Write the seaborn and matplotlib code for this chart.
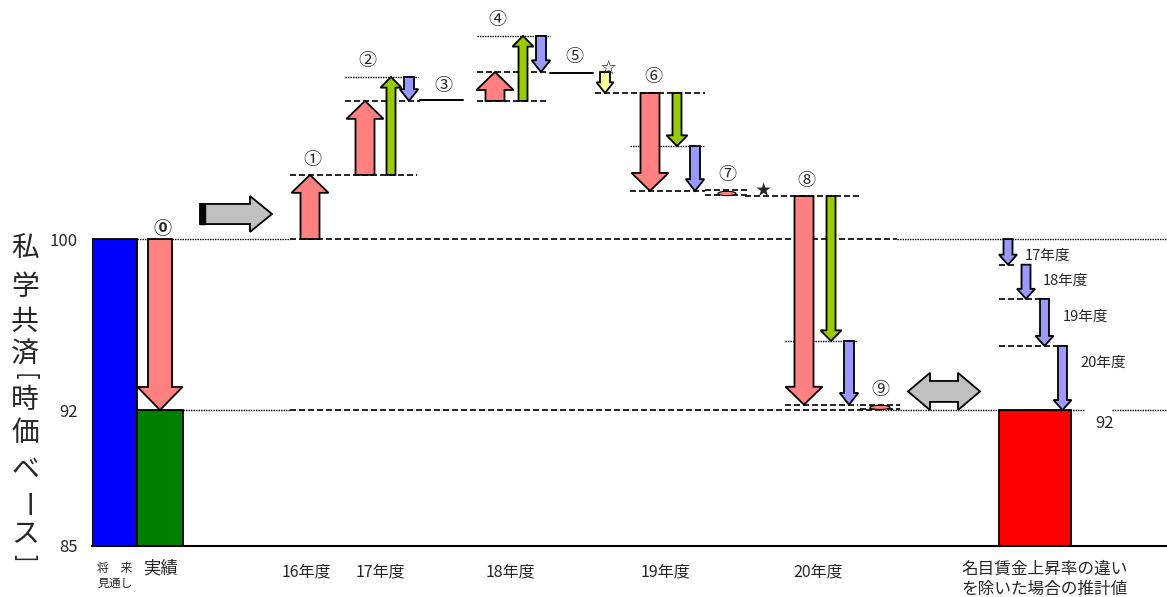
import matplotlib
matplotlib.use("Agg")
import matplotlib.pyplot as plt
import seaborn as sns
import pandas as pd
from matplotlib.patches import Ellipse

# %% data (index: projection = 100)

projection = 100.0
actual = 92.0
adjusted = 92.0
y_tick_labels = ["85", "92", "100"]

bar_names = ["将　来\n見通し", "実績"]
bar_values = [projection, actual]
adjusted_name = "名目賃金上昇率の違い\nを除いた場合の推計値"

years = ["16年度", "17年度", "18年度", "19年度", "20年度"]

# levels reached after each step
lv_16 = 103.0
lv_17_top = 107.58
lv_17 = 106.46
lv_18_top = 109.5
lv_18 = 107.81
lv_star = 106.83
lv_19_mid = 104.35
lv_19 = 102.25
lv_7 = 102.01
lv_20_mid = 95.23
lv_20 = 92.25

# arrows: start, end, colour kind
arrow_start = [projection, projection, lv_16, lv_16, lv_17_top, lv_17, lv_17, lv_18_top,
               lv_18, lv_star, lv_star, lv_19_mid, lv_7, lv_7, lv_20_mid]
arrow_end = [actual, lv_16, lv_17, lv_17_top, lv_17, lv_18, lv_18_top, lv_18,
             lv_star, lv_19, lv_19_mid, lv_19, lv_20, lv_20_mid, lv_20]
arrow_kind = ["pink", "pink", "pink", "green", "blue", "pink", "green", "blue",
              "yellow", "pink", "green", "blue", "pink", "green", "blue"]

# right side: blue (nominal wage) parts only
adj_years = ["17年度", "18年度", "19年度", "20年度"]
adj_levels = [projection, 98.8, 97.2, 95.0, adjusted]

circled = ["⓪", "①", "②", "③", "④", "⑤", "⑥", "⑦", "⑧", "⑨"]

# %% layout (x axis in arbitrary slot units)

y_bottom = 85.64
y_top = 111.18
x_max = 107.5

bar_x = [2.25, 6.8]
red_x, red_w = 94.3, 7.2

arrow_x = [6.8, 21.8, 27.3, 29.9, 31.7, 40.3, 43.1, 44.9,
           51.3, 55.8, 58.5, 60.3, 71.2, 73.9, 75.7]
kind_color = {"pink": "#FF8080", "green": "#99CC00", "blue": "#9999FF", "yellow": "#FFFF99"}
kind_size = {  # shaft width, head width, head length
    "pink": (1.9, 3.7, 0.84),
    "green": (0.9, 2.1, 0.5),
    "blue": (1.0, 1.85, 0.55),
    "yellow": (1.0, 1.7, 0.5),
}
adj_x = [91.6, 93.4, 95.25, 97.05]

circled_pos = [(7.1, 100.51), (22.0, 103.7), (27.5, 108.33), (35.1, 107.16), (40.5, 110.25),
               (48.2, 108.51), (56.1, 107.58), (63.5, 102.99), (71.4, 102.71), (78.8, 92.94)]


def varrow(ax, x, y0, y1, shaft, head, head_len, color):
    s = 1 if y1 > y0 else -1
    hl = min(head_len, abs(y1 - y0))
    yb = y1 - s * hl
    xs = [x - shaft / 2, x - shaft / 2, x - head / 2, x, x + head / 2, x + shaft / 2, x + shaft / 2]
    ys = [y0, yb, yb, y1, yb, yb, y0]
    ax.fill(xs, ys, facecolor=color, edgecolor="black", linewidth=1.3, joinstyle="miter", zorder=4)


def hline(ax, y, x0, x1, style):
    ls = (0, (3.6, 1.8)) if style == "--" else (0, (1, 0.8))
    lw = 1.2 if style == "--" else 1.0
    ax.plot([x0, x1], [y, y], color="black", linestyle=ls, linewidth=lw, zorder=3)


# %% figure

sns.set_theme(style="white")
plt.rcParams["font.family"] = ["Noto Sans CJK JP", "DejaVu Sans"]

fig = plt.figure(figsize=(11.67, 5.97), dpi=100)
ax = fig.add_axes([92 / 1167, 51 / 597, 1075 / 1167, 546 / 597])

df_bars = pd.DataFrame({"x": bar_x, "value": bar_values, "name": bar_names})
sns.barplot(data=df_bars, x="x", y="value", hue="name", palette=["#0000FF", "#008000"],
            native_scale=True, dodge=False, width=1.0, orient="x", errorbar=None, saturation=1,
            edgecolor="black", linewidth=1.3, legend=False, ax=ax, zorder=2)
df_red = pd.DataFrame({"x": [red_x], "value": [adjusted]})
sns.barplot(data=df_red, x="x", y="value", color="#FF0000", native_scale=True, saturation=1,
            width=red_w, orient="x", errorbar=None, edgecolor="black", linewidth=1.3,
            ax=ax, zorder=2)

# guide lines
guides = [
    (projection, 4.5, 19.8, ":"), (projection, 19.8, 80.5, "--"), (projection, 80.5, x_max, ":"),
    (actual, 9.1, 19.8, ":"), (actual, 19.8, 78.8, "--"), (actual, 78.8, 99.3, ":"), (actual, 102.0, x_max, ":"),
    (lv_16, 19.8, 32.5, "--"),
    (lv_17, 25.3, 32.8, "--"), (lv_17, 38.5, 45.6, "--"), (lv_17_top, 25.3, 32.6, ":"),
    (lv_18, 38.5, 45.6, "--"), (lv_18_top, 38.5, 45.8, ":"),
    (lv_star, 50.3, 61.3, "--"), (lv_19_mid, 53.8, 61.2, ":"), (lv_19, 53.8, 61.3, "--"),
    (lv_19 + 0.03, 61.3, 65.5, "--"), (lv_7 + 0.03, 61.3, 65.5, "--"),
    (lv_7, 65.3, 76.8, "--"), (lv_20_mid, 69.3, 76.5, ":"), (lv_20, 69.3, 76.6, "--"),
    (lv_20 - 0.03, 76.8, 80.8, "--"), (actual + 0.05, 76.8, 80.8, "--"),
]
for y, x0, x1, st in guides:
    hline(ax, y, x0, x1, st)
for y, x1 in zip(adj_levels[1:4], [92.3, 96.1, 96.5]):
    hline(ax, y, 90.7, x1, "--")

# flat steps ③ and ⑤
ax.plot([32.8, 37.1], [lv_17 + 0.03, lv_17 + 0.03], color="black", linewidth=1.4, zorder=3)
ax.plot([45.8, 50.1], [lv_18 - 0.03, lv_18 - 0.03], color="black", linewidth=1.4, zorder=3)

# arrows
for i, (x, y0, y1, k) in enumerate(zip(arrow_x, arrow_start, arrow_end, arrow_kind)):
    shaft, head, hl = kind_size[k]
    if i == 0:
        shaft, head, hl = 2.4, 4.5, 1.08
    varrow(ax, x, y0, y1, shaft, head, hl, kind_color[k])
for x, y0, y1 in zip(adj_x, adj_levels[:-1], adj_levels[1:]):
    varrow(ax, x, y0, y1, 0.9, 1.8, 0.47, kind_color["blue"])

# tiny pink steps ⑦ and ⑨
ax.add_patch(Ellipse((63.5, (lv_19 + lv_7) / 2), 1.8, 0.2, facecolor="#FF8080",
                     edgecolor="black", linewidth=0.8, zorder=4))
ax.add_patch(Ellipse((78.8, (lv_20 + actual) / 2), 2.0, 0.2, facecolor="#FF8080",
                     edgecolor="black", linewidth=0.8, zorder=4))

# gray block arrow (right)
yc, bh, hh = 101.17, 0.47, 0.84
ax.fill([10.8, 15.8, 15.8, 18.0, 15.8, 15.8, 10.8], [yc - bh, yc - bh, yc - hh, yc, yc + hh, yc + bh, yc + bh],
        facecolor="#C0C0C0", edgecolor="black", linewidth=1.3, joinstyle="miter", zorder=4)
ax.fill([10.8, 11.3, 11.3, 10.8], [yc - bh, yc - bh, yc + bh, yc + bh], color="black", zorder=5)

# gray double arrow
yc, bh, hh = 92.87, 0.49, 0.87
ax.fill([81.6, 83.8, 83.8, 86.6, 86.6, 88.8, 86.6, 86.6, 83.8, 83.8],
        [yc, yc + hh, yc + bh, yc + bh, yc + hh, yc, yc - hh, yc - bh, yc - bh, yc - hh],
        facecolor="#C0C0C0", edgecolor="black", linewidth=1.3, joinstyle="miter", zorder=4)

# circled step numbers and stars
for lab, (x, y) in zip(circled, circled_pos):
    ax.text(x, y, lab, ha="center", va="center", fontsize=13, zorder=6,
            fontweight="bold" if lab == "⓪" else "normal")
ax.text(51.6, 107.99, "☆", ha="center", va="center", fontsize=11, zorder=6)
ax.text(67.1, 102.29, "★", ha="center", va="center", fontsize=11, zorder=6)

# right side labels
for x, y, lab in zip([93.3, 95.1, 97.1, 98.8], [99.2, 98.03, 96.35, 94.2], adj_years):
    ax.text(x, y, lab, ha="left", va="center", fontsize=10.5)
ax.text(101.2, 91.39, "92", ha="center", va="center", fontsize=12)

# bottom labels
tr = ax.get_xaxis_transform()
ax.text(2.3, -0.03, bar_names[0], transform=tr, ha="center", va="top", fontsize=8.5, linespacing=1.15)
ax.text(6.8, -0.024, bar_names[1], transform=tr, ha="center", va="top", fontsize=12.5)
for x, lab in zip([21.4, 28.8, 41.8, 57.3, 72.6], years):
    ax.text(x, -0.032, lab, transform=tr, ha="center", va="top", fontsize=11.5)
ax.text(95.3, -0.026, adjusted_name, transform=tr, ha="center", va="top", fontsize=12, linespacing=1.25)

# y axis
ax.set_xlim(0, x_max)
ax.set_ylim(y_bottom, y_top)
ax.set_yticks([y_bottom, actual, projection])
ax.set_yticklabels(y_tick_labels, fontsize=12)
ax.set_xticks([])
ax.tick_params(left=False, bottom=False, length=0, pad=10)
ax.set_xlabel("")
ax.set_ylabel("")
for side in ["top", "right", "left"]:
    ax.spines[side].set_visible(False)
ax.spines["bottom"].set_color("black")
ax.spines["bottom"].set_linewidth(1.5)

# vertical axis title, one character per line
title_chars = ["私", "学", "共", "済", "[", "時", "価", "ベ", "ー", "ス", "]"]
title_py = [249, 287, 322, 355, 377, 400, 433, 470, 505, 534, 558]
for ch, py in zip(title_chars, title_py):
    rot = -90 if ch in "[]ー" else 0
    size = 16 if ch in "[]" else 20
    fig.text(25 / 1167, 1 - py / 597, ch, ha="center", va="center", fontsize=size, rotation=rot)

fig.savefig("out.png", dpi=100)
